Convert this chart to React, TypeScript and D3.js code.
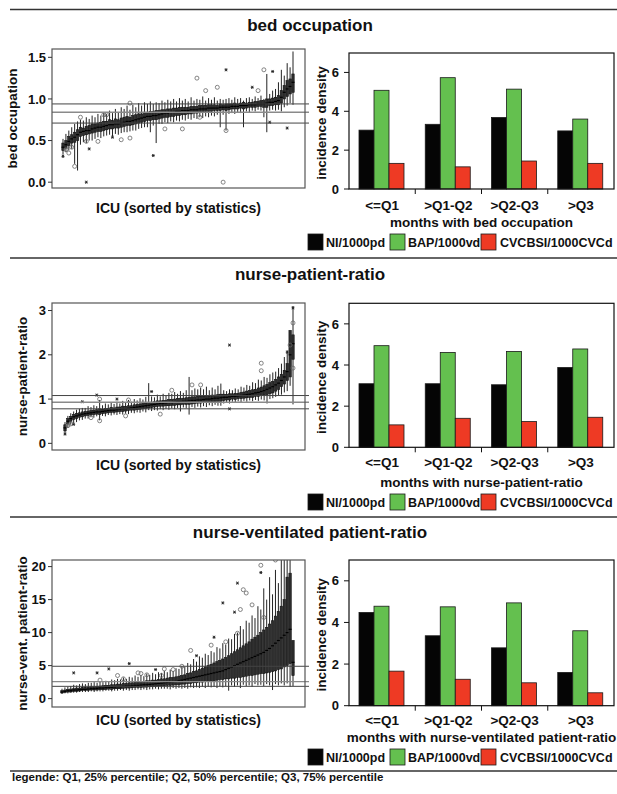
import React from 'react';
import * as d3 from 'd3';

// ---------- data ----------
const categories = ['<=Q1', '>Q1-Q2', '>Q2-Q3', '>Q3'];
const seriesNames = ['NI/1000pd', 'BAP/1000vd', 'CVCBSI/1000CVCd'];
const seriesColors = ['#050505', '#64c04f', '#ee3a24'];
const barTicks = [0, 2, 4, 6];

const niBed = [3.03, 3.33, 3.68, 2.99];
const bapBed = [5.08, 5.73, 5.14, 3.6];
const cvcBed = [1.32, 1.14, 1.44, 1.32];

const niNurse = [3.09, 3.09, 3.04, 3.88];
const bapNurse = [4.94, 4.61, 4.66, 4.78];
const cvcNurse = [1.09, 1.41, 1.25, 1.46];

const niVent = [4.48, 3.36, 2.78, 1.6];
const bapVent = [4.78, 4.75, 4.94, 3.6];
const cvcVent = [1.66, 1.27, 1.1, 0.62];

// ICU boxplots: [whisker low, q1, median, q3, whisker high], ICUs sorted by statistics
const bedBoxes = [
  [0.33,0.38,0.42,0.47,0.52],[0.36,0.41,0.45,0.5,0.58],[0.38,0.44,0.49,0.55,0.62],[0.4,0.47,0.52,0.57,0.66],
  [0.22,0.48,0.54,0.6,0.7],[0.14,0.5,0.57,0.63,0.73],[0.45,0.55,0.6,0.66,0.75],[0.48,0.56,0.61,0.65,0.74],
  [0.47,0.57,0.62,0.67,0.78],[0.5,0.58,0.62,0.68,0.76],[0.5,0.59,0.64,0.7,0.8],[0.52,0.6,0.65,0.7,0.78],
  [0.54,0.61,0.66,0.71,0.82],[0.53,0.61,0.66,0.72,0.8],[0.55,0.62,0.67,0.73,0.84],[0.56,0.63,0.68,0.73,0.82],
  [0.57,0.64,0.69,0.75,0.86],[0.55,0.64,0.69,0.74,0.83],[0.58,0.65,0.7,0.76,0.88],[0.57,0.65,0.7,0.75,0.84],
  [0.59,0.66,0.71,0.77,0.9],[0.6,0.67,0.72,0.78,0.88],[0.6,0.68,0.73,0.79,0.92],[0.61,0.68,0.73,0.78,0.87],
  [0.62,0.69,0.74,0.8,0.93],[0.62,0.7,0.75,0.81,0.9],[0.64,0.71,0.76,0.82,0.95],[0.65,0.72,0.77,0.82,0.92],
  [0.66,0.73,0.78,0.84,0.96],[0.66,0.74,0.79,0.84,0.94],[0.6,0.74,0.79,0.85,0.97],[0.68,0.75,0.8,0.85,0.94],
  [0.47,0.75,0.8,0.86,0.96],[0.7,0.76,0.81,0.86,0.95],[0.7,0.77,0.82,0.87,0.98],[0.72,0.78,0.83,0.87,0.96],
  [0.71,0.78,0.83,0.88,0.99],[0.73,0.79,0.84,0.88,0.97],[0.72,0.79,0.84,0.89,1.0],[0.74,0.8,0.85,0.89,0.97],
  [0.73,0.8,0.85,0.9,1.01],[0.75,0.81,0.86,0.9,0.98],[0.74,0.81,0.86,0.9,1.0],[0.76,0.82,0.86,0.9,0.97],
  [0.75,0.82,0.87,0.91,1.02],[0.77,0.83,0.87,0.91,0.98],[0.76,0.83,0.87,0.91,1.0],[0.78,0.84,0.88,0.92,0.99],
  [0.77,0.84,0.88,0.92,1.03],[0.79,0.85,0.88,0.92,0.98],[0.78,0.85,0.89,0.93,1.01],[0.8,0.85,0.89,0.93,0.99],
  [0.79,0.86,0.89,0.93,1.02],[0.81,0.86,0.89,0.92,0.98],[0.66,0.86,0.9,0.94,1.0],[0.81,0.87,0.9,0.93,0.99],
  [0.62,0.86,0.9,0.94,1.0],[0.82,0.87,0.9,0.94,1.01],[0.83,0.88,0.91,0.94,0.99],[0.82,0.88,0.91,0.95,1.02],
  [0.84,0.88,0.91,0.94,1.0],[0.83,0.89,0.92,0.95,1.01],[0.66,0.88,0.92,0.96,0.98],[0.85,0.89,0.92,0.95,1.01],
  [0.84,0.9,0.93,0.96,1.02],[0.86,0.9,0.93,0.96,1.0],[0.85,0.9,0.93,0.97,1.03],[0.87,0.91,0.94,0.97,1.01],
  [0.86,0.91,0.94,0.98,1.04],[0.78,0.9,0.94,0.98,1.0],[0.6,0.9,0.95,1.0,1.3],[0.86,0.92,0.96,1.0,1.06],
  [0.87,0.92,0.96,1.01,1.1],[0.86,0.93,0.97,1.02,1.12],[0.87,0.93,0.98,1.04,1.2],[0.85,0.95,1.02,1.1,1.35],
  [0.9,1.0,1.08,1.16,1.28],[0.92,1.03,1.12,1.22,1.43],[0.95,1.06,1.15,1.24,1.38],[0.93,1.08,1.2,1.3,1.57],
];
// outliers: [ICU index, value, 0 = circle, 1 = asterisk]
const bedOutliers = [
  [1,0.39,0],[2,0.35,0],[0,0.31,1],[4,0.19,0],[8,0.0,1],[9,0.4,1],[6,0.78,0],[15,0.81,0],[23,0.53,0],
  [23,0.95,0],[31,0.32,1],[35,0.64,0],[41,0.64,0],[46,1.25,0],[49,1.1,0],[53,1.14,0],[56,1.35,1],
  [56,0.62,0],[55,0.0,0],[65,1.14,1],[67,1.1,0],[69,1.35,0],[72,1.33,1],[71,0.72,1],[77,0.65,1],
  [47,0.78,0],[8,0.49,0],[12,0.49,0],[17,0.54,1],[20,0.51,0],[14,0.81,0],[3,0.42,0],
];
const bedRefs = [0.94, 0.84, 0.71];
const bedTicks = [0, 0.5, 1, 1.5];

const nurseBoxes = [
  [0.2,0.28,0.35,0.42,0.48],[0.35,0.44,0.5,0.56,0.62],[0.42,0.5,0.56,0.61,0.68],[0.46,0.54,0.6,0.65,0.72],
  [0.48,0.56,0.62,0.67,0.76],[0.52,0.59,0.64,0.69,0.78],[0.53,0.6,0.66,0.71,0.8],[0.56,0.62,0.67,0.72,0.8],
  [0.56,0.63,0.68,0.73,0.84],[0.59,0.64,0.69,0.74,0.82],[0.58,0.65,0.7,0.75,0.86],[0.61,0.66,0.71,0.76,0.84],
  [0.52,0.65,0.71,0.78,0.98],[0.62,0.67,0.72,0.77,0.86],[0.61,0.68,0.73,0.79,0.9],[0.64,0.69,0.74,0.79,0.88],
  [0.63,0.7,0.75,0.81,0.92],[0.65,0.7,0.75,0.8,0.89],[0.64,0.71,0.76,0.82,0.94],[0.66,0.72,0.77,0.82,0.9],
  [0.65,0.72,0.78,0.84,0.96],[0.67,0.73,0.78,0.83,0.92],[0.66,0.74,0.79,0.85,0.98],[0.69,0.75,0.8,0.85,0.94],
  [0.68,0.75,0.81,0.87,1.0],[0.7,0.76,0.82,0.88,0.97],[0.69,0.77,0.83,0.89,1.02],[0.72,0.78,0.84,0.9,0.99],
  [0.7,0.79,0.85,0.91,1.05],[0.75,0.8,0.86,0.92,1.36],[0.73,0.81,0.87,0.93,1.06],[0.75,0.82,0.88,0.94,1.04],
  [0.74,0.83,0.89,0.96,1.1],[0.77,0.84,0.9,0.96,1.06],[0.75,0.84,0.9,0.97,1.12],[0.78,0.85,0.91,0.97,1.08],
  [0.76,0.85,0.92,0.99,1.14],[0.79,0.86,0.92,0.99,1.12],[0.77,0.86,0.93,1.0,1.16],[0.8,0.87,0.94,1.01,1.12],
  [0.72,0.87,0.94,1.02,1.18],[0.81,0.88,0.95,1.02,1.14],[0.79,0.88,0.95,1.03,1.2],[0.65,0.88,0.96,1.04,1.5],
  [0.82,0.89,0.97,1.05,1.2],[0.8,0.9,0.97,1.05,1.24],[0.83,0.91,0.98,1.06,1.22],[0.81,0.91,0.98,1.06,1.26],
  [0.84,0.92,0.99,1.07,1.22],[0.82,0.92,1.0,1.08,1.28],[0.86,0.93,1.0,1.07,1.2],[0.84,0.93,1.01,1.09,1.26],
  [0.87,0.94,1.02,1.09,1.22],[0.85,0.95,1.02,1.1,1.3],[0.85,0.95,1.03,1.11,1.35],[0.9,0.97,1.04,1.11,1.2],
  [0.92,0.98,1.04,1.1,1.18],[0.9,0.98,1.05,1.12,1.22],[0.94,1.0,1.06,1.12,1.2],[0.92,0.99,1.06,1.13,1.24],
  [0.95,1.01,1.07,1.13,1.22],[0.93,1.01,1.08,1.15,1.28],[0.96,1.02,1.09,1.16,1.26],[0.94,1.03,1.1,1.18,1.32],
  [0.97,1.04,1.11,1.19,1.3],[0.95,1.04,1.12,1.21,1.38],[0.98,1.06,1.14,1.22,1.36],[0.96,1.06,1.15,1.25,1.44],
  [0.99,1.08,1.17,1.27,1.42],[0.97,1.09,1.19,1.3,1.5],[0.9,1.1,1.22,1.33,1.48],[1.0,1.12,1.25,1.37,1.56],
  [1.02,1.14,1.28,1.4,1.6],[1.05,1.18,1.32,1.44,1.62],[1.08,1.22,1.36,1.5,1.7],[1.1,1.28,1.42,1.56,1.8],
  [1.15,1.34,1.5,1.65,1.95],[1.18,1.42,1.62,1.8,2.1],[1.3,1.5,2.0,2.55,2.55],[0.88,1.9,2.25,2.45,3.1],
];
const nurseOutliers = [
  [0,0.21,1],[1,0.4,0],[2,0.44,0],[6,0.94,1],[11,1.09,1],[12,1.0,0],[12,0.51,0],[18,1.0,1],[22,0.98,0],
  [21,0.62,0],[30,1.17,1],[33,0.66,0],[37,1.2,0],[44,1.32,0],[47,1.32,0],[57,2.22,1],[57,0.78,1],
  [68,1.81,0],[68,1.64,0],[77,2.06,1],[79,2.72,0],[79,3.06,1],[78,2.22,0],[79,1.7,0],[9,0.58,0],[3,0.43,1],
];
const nurseRefs = [1.08, 0.93, 0.78];
const nurseTicks = [0, 1, 2, 3];

const ventBoxes = [
  [0.7,0.85,1.0,1.2,1.5],[0.8,0.95,1.1,1.3,1.7],[0.8,1.0,1.2,1.4,1.8],[0.9,1.0,1.2,1.45,1.9],
  [0.9,1.1,1.3,1.5,2.1],[0.9,1.1,1.3,1.6,2.0],[1.0,1.15,1.35,1.6,2.2],[1.0,1.2,1.4,1.7,2.3],
  [1.0,1.2,1.4,1.7,2.2],[1.0,1.25,1.45,1.75,2.4],[1.1,1.3,1.5,1.8,2.4],[1.0,1.3,1.5,1.8,2.5],
  [1.1,1.3,1.55,1.85,2.4],[1.1,1.35,1.6,1.9,2.6],[1.1,1.35,1.6,1.95,2.5],[1.2,1.4,1.65,2.0,2.7],
  [1.2,1.45,1.7,2.0,2.6],[1.1,1.4,1.7,2.1,2.9],[1.2,1.5,1.75,2.1,2.8],[1.2,1.5,1.8,2.2,3.0],
  [1.3,1.5,1.8,2.2,2.9],[1.2,1.55,1.85,2.3,3.2],[1.3,1.6,1.9,2.3,3.0],[1.2,1.6,1.9,2.4,3.3],
  [1.3,1.65,1.95,2.4,3.2],[1.3,1.7,2.0,2.5,3.5],[1.4,1.7,2.0,2.5,3.3],[1.3,1.7,2.05,2.6,3.6],
  [1.4,1.75,2.1,2.6,3.4],[1.3,1.75,2.1,2.7,3.8],[1.4,1.8,2.15,2.7,3.6],[1.4,1.8,2.2,2.8,3.9],
  [1.5,1.85,2.25,2.8,3.7],[1.4,1.9,2.3,2.9,4.0],[1.5,1.9,2.35,3.0,3.9],[1.5,1.95,2.4,3.0,4.2],
  [1.5,2.0,2.45,3.1,4.0],[1.4,2.0,2.5,3.2,4.4],[1.6,2.05,2.55,3.2,4.2],[1.5,2.1,2.6,3.3,4.6],
  [1.6,2.1,2.7,3.4,4.5],[1.5,2.2,2.8,3.5,4.9],[1.6,2.2,2.9,3.6,4.8],[1.5,2.3,3.0,3.8,5.4],
  [1.7,2.3,3.1,3.9,5.2],[1.6,2.4,3.2,4.1,6.0],[1.7,2.4,3.3,4.2,5.6],[1.6,2.5,3.4,4.4,6.4],
  [1.8,2.5,3.5,4.6,6.2],[1.6,2.6,3.6,4.8,6.8],[1.8,2.6,3.7,5.0,6.6],[1.7,2.7,3.8,5.2,7.2],
  [1.8,2.7,3.9,5.4,7.0],[1.6,2.8,4.0,5.6,7.8],[1.9,2.9,4.1,5.8,7.6],[1.7,2.9,4.2,6.0,8.4],
  [1.9,3.0,4.4,6.2,8.2],[1.2,3.0,4.6,6.5,9.1],[2.0,3.1,4.8,6.8,9.0],[1.8,3.1,5.0,7.1,9.8],
  [2.0,3.2,5.2,7.4,10.0],[1.6,3.2,5.4,7.7,11.0],[2.1,3.3,5.6,8.0,10.5],[1.9,3.4,5.8,8.3,11.8],
  [2.0,3.5,6.0,8.6,11.5],[1.8,3.5,6.2,9.0,12.6],[2.2,3.6,6.4,9.3,12.2],[2.0,3.7,6.6,9.6,14.0],
  [2.1,3.8,6.8,10.0,13.5],[1.9,3.8,7.0,10.4,16.7],[2.2,3.9,7.3,10.8,15.0],[2.0,4.0,7.6,11.3,18.4],
  [1.3,4.1,8.0,11.8,15.8],[2.2,4.2,8.4,12.5,19.5],[2.0,4.4,8.8,13.2,17.5],[2.3,4.5,9.2,14.0,21.5],
  [2.0,4.8,9.6,15.0,22.0],[2.3,5.0,10.0,18.4,23.0],[1.8,5.3,10.5,19.0,24.0],[1.9,3.5,5.5,8.8,8.8],
];
const ventOutliers = [
  [4,3.9,1],[12,3.9,1],[16,4.5,1],[19,3.5,0],[21,3.0,0],[23,5.3,1],[26,3.9,0],[29,3.6,0],[32,4.4,1],
  [35,4.5,0],[34,3.5,0],[38,4.4,0],[41,4.9,0],[44,7.3,0],[46,6.5,1],[51,8.1,0],[52,9.3,1],[56,8.6,0],
  [55,14.5,1],[59,13.1,1],[61,13.5,0],[60,17.5,1],[62,16.5,0],[63,16.0,0],[65,14.2,0],[60,9.9,0],
  [68,20.2,0],[68,19.1,1],[69,12.3,0],[73,21.0,0],[13,2.8,0],[27,3.8,0],
];
const ventRefs = [4.9, 2.58, 1.86];
const ventTicks = [0, 5, 10, 15, 20];

// ---------- drawing ----------
const FONT = "'Liberation Sans', Arial, Helvetica, sans-serif";
const NARROW = "'Liberation Sans Narrow', 'Liberation Sans', Arial, sans-serif";

type BoxProps = {
  boxes: number[][];
  outliers: number[][];
  refs: number[];
  ticks: number[];
  fmt: (v: number) => string;
  yDomain: [number, number];
  y0: number;
  y1: number;
  icu: [number, number];
  yTitle: string;
  yTitleX: number;
  xLabelY: number;
  id: string;
};

function Asterisk({ x, y }: { x: number; y: number }) {
  const s = 1.5;
  return (
    <g stroke="#222" strokeWidth={0.9}>
      <line x1={x - s} y1={y} x2={x + s} y2={y} />
      <line x1={x - s * 0.6} y1={y - s} x2={x + s * 0.6} y2={y + s} />
      <line x1={x - s * 0.6} y1={y + s} x2={x + s * 0.6} y2={y - s} />
    </g>
  );
}

function BoxPanel(p: BoxProps) {
  const x0 = 52, x1 = 305;
  const y = d3.scaleLinear().domain(p.yDomain).range([p.y1, p.y0]);
  const x = d3.scalePoint<number>().domain(d3.range(p.boxes.length)).range(p.icu);
  const bw = 2.4;
  return (
    <g>
      <defs>
        <clipPath id={p.id}>
          <rect x={x0} y={p.y0} width={x1 - x0} height={p.y1 - p.y0} />
        </clipPath>
      </defs>
      <g clipPath={`url(#${p.id})`}>
        {p.boxes.map((b, i) => {
          const cx = x(i) as number;
          return (
            <g key={i}>
              <line x1={cx} x2={cx} y1={y(b[0])} y2={y(b[4])} stroke="#222" strokeWidth={1} />
              <rect x={cx - bw / 2} y={y(b[3])} width={bw} height={Math.max(0.8, y(b[1]) - y(b[3]))}
                fill="#2e2e2e" stroke="#111" strokeWidth={0.6} />
              <line x1={cx - bw / 2 - 0.3} x2={cx + bw / 2 + 0.3} y1={y(b[2])} y2={y(b[2])} stroke="#000" strokeWidth={1.2} />
            </g>
          );
        })}
        {p.outliers.map((o, i) => {
          const cx = x(o[0]) as number;
          const cy = y(o[1]);
          return o[2] === 0 ? (
            <circle key={i} cx={cx} cy={cy} r={2} fill="none" stroke="#666" strokeWidth={0.8} />
          ) : (
            <Asterisk key={i} x={cx} y={cy} />
          );
        })}
      </g>
      {p.refs.map((r, i) => (
        <line key={i} x1={x0} x2={309} y1={y(r)} y2={y(r)} stroke={i === 1 ? '#8a8a8a' : '#444'} strokeWidth={i === 1 ? 1.4 : 1} />
      ))}
      <rect x={x0} y={p.y0} width={x1 - x0} height={p.y1 - p.y0} fill="none" stroke="#555" strokeWidth={1.2} />
      {p.ticks.map((t) => (
        <g key={t}>
          <line x1={x0 - 4} x2={x0} y1={y(t)} y2={y(t)} stroke="#333" strokeWidth={1} />
          <text x={x0 - 6} y={y(t)} dy="0.36em" textAnchor="end" fontFamily={FONT} fontWeight="bold" fontSize={13} fill="#111">
            {p.fmt(t)}
          </text>
        </g>
      ))}
      <text transform={`translate(${p.yTitleX},${(p.y0 + p.y1) / 2}) rotate(-90)`} textAnchor="middle"
        fontFamily={FONT} fontWeight="bold" fontSize={13.5} fill="#111">
        {p.yTitle}
      </text>
      <text x={(x0 + x1) / 2} y={p.xLabelY} textAnchor="middle" fontFamily={FONT} fontWeight="bold" fontSize={14} fill="#111">
        ICU (sorted by statistics)
      </text>
    </g>
  );
}

type BarProps = {
  ni: number[];
  bap: number[];
  cvc: number[];
  y0: number;
  y1: number;
  tickY: number;
  titleY: number;
  legendY: number;
  xTitle: string;
};

function BarPanel(p: BarProps) {
  const x0 = 349, x1 = 614;
  const y = d3.scaleLinear().domain([0, 7]).range([p.y1, p.y0]);
  const xb = d3.scaleBand<string>().domain(categories).range([x0, x1]);
  const xs = d3.scaleBand<string>().domain(seriesNames).range([10, 55]);
  const series = [p.ni, p.bap, p.cvc];
  const legendSq = [308, 390, 481];
  const legendTx = [326, 408, 500];
  return (
    <g>
      {categories.map((c, ci) => (
        <g key={c} transform={`translate(${xb(c)},0)`}>
          {seriesNames.map((s, si) => (
            <rect key={s} x={xs(s)} y={y(series[si][ci])} width={xs.bandwidth()} height={y(0) - y(series[si][ci])}
              fill={seriesColors[si]} stroke="#1a1a1a" strokeWidth={0.8} />
          ))}
        </g>
      ))}
      <rect x={x0} y={p.y0} width={x1 - x0} height={p.y1 - p.y0} fill="none" stroke="#111" strokeWidth={1.2} />
      {barTicks.map((t) => (
        <g key={t}>
          <line x1={x0 - 5} x2={x0} y1={y(t)} y2={y(t)} stroke="#111" />
          <text x={x0 - 10} y={y(t)} dy="0.36em" textAnchor="end" fontFamily={FONT} fontWeight="bold" fontSize={13} fill="#111">
            {t}
          </text>
        </g>
      ))}
      {categories.map((c, ci) => (
        <g key={c}>
          {ci > 0 && <line x1={xb(c)} x2={xb(c)} y1={p.y1} y2={p.y1 + 5} stroke="#111" />}
          <text x={(xb(c) as number) + xb.bandwidth() / 2} y={p.tickY} textAnchor="middle" fontFamily={FONT}
            fontWeight="bold" fontSize={13.5} fill="#111">
            {c}
          </text>
        </g>
      ))}
      <text transform={`translate(326,${(p.y0 + p.y1) / 2 + 2}) rotate(-90)`} textAnchor="middle" fontFamily={FONT}
        fontWeight="bold" fontSize={13.5} fill="#111">
        incidence density
      </text>
      <text x={(x0 + x1) / 2} y={p.titleY} textAnchor="middle" fontFamily={FONT} fontWeight="bold" fontSize={13.5} fill="#111">
        {p.xTitle}
      </text>
      {seriesNames.map((s, si) => (
        <g key={s}>
          <rect x={legendSq[si]} y={p.legendY} width={15} height={16} fill={seriesColors[si]} stroke="#1a1a1a" strokeWidth={0.8} />
          <text x={legendTx[si]} y={p.legendY + 13} fontFamily={FONT} fontWeight="bold" fontSize={12.5} fill="#111">
            {s}
          </text>
        </g>
      ))}
    </g>
  );
}

const f1 = d3.format('.1f');
const f0 = d3.format('d');

export default function App() {
  return (
    <svg width={617} height={794} style={{ position: 'absolute', left: 0, top: 0, background: '#fff' }}>
      <rect width={617} height={794} fill="#fff" />
      {[9.5, 258, 517, 771].map((yy) => (
        <line key={yy} x1={10} x2={617} y1={yy} y2={yy} stroke="#333" strokeWidth={1.5} />
      ))}
      <text x={310} y={31} textAnchor="middle" fontFamily={FONT} fontWeight="bold" fontSize={17} fill="#111">bed occupation</text>
      <text x={310} y={280} textAnchor="middle" fontFamily={FONT} fontWeight="bold" fontSize={17} fill="#111">nurse-patient-ratio</text>
      <text x={310} y={538} textAnchor="middle" fontFamily={FONT} fontWeight="bold" fontSize={17} fill="#111">nurse-ventilated patient-ratio</text>

      <BoxPanel id="c1" boxes={bedBoxes} outliers={bedOutliers} refs={bedRefs} ticks={bedTicks} fmt={f1}
        yDomain={[-0.07, 1.6]} y0={49} y1={188} icu={[63, 293]} yTitle="bed occupation" yTitleX={17} xLabelY={213} />
      <BoxPanel id="c2" boxes={nurseBoxes} outliers={nurseOutliers} refs={nurseRefs} ticks={nurseTicks} fmt={f0}
        yDomain={[-0.15, 3.17]} y0={303} y1={450} icu={[65, 293]} yTitle="nurse-patient-ratio" yTitleX={27} xLabelY={470} />
      <BoxPanel id="c3" boxes={ventBoxes} outliers={ventOutliers} refs={ventRefs} ticks={ventTicks} fmt={f0}
        yDomain={[-1.27, 21]} y0={560} y1={707} icu={[62, 293]} yTitle="nurse-vent. patient-ratio" yTitleX={27} xLabelY={725} />

      <BarPanel ni={niBed} bap={bapBed} cvc={cvcBed} y0={53} y1={189} tickY={210} titleY={227} legendY={234}
        xTitle="months with bed occupation" />
      <BarPanel ni={niNurse} bap={bapNurse} cvc={cvcNurse} y0={303.3} y1={447.3} tickY={466.5} titleY={487} legendY={494}
        xTitle="months with nurse-patient-ratio" />
      <BarPanel ni={niVent} bap={bapVent} cvc={cvcVent} y0={560} y1={705.7} tickY={725} titleY={741.5} legendY={749}
        xTitle="months with nurse-ventilated patient-ratio" />

      <text x={12} y={781} fontFamily={NARROW} fontWeight="bold" fontSize={11.5} fill="#111">
        legende: Q1, 25% percentile; Q2, 50% percentile; Q3, 75% percentile
      </text>
    </svg>
  );
}
